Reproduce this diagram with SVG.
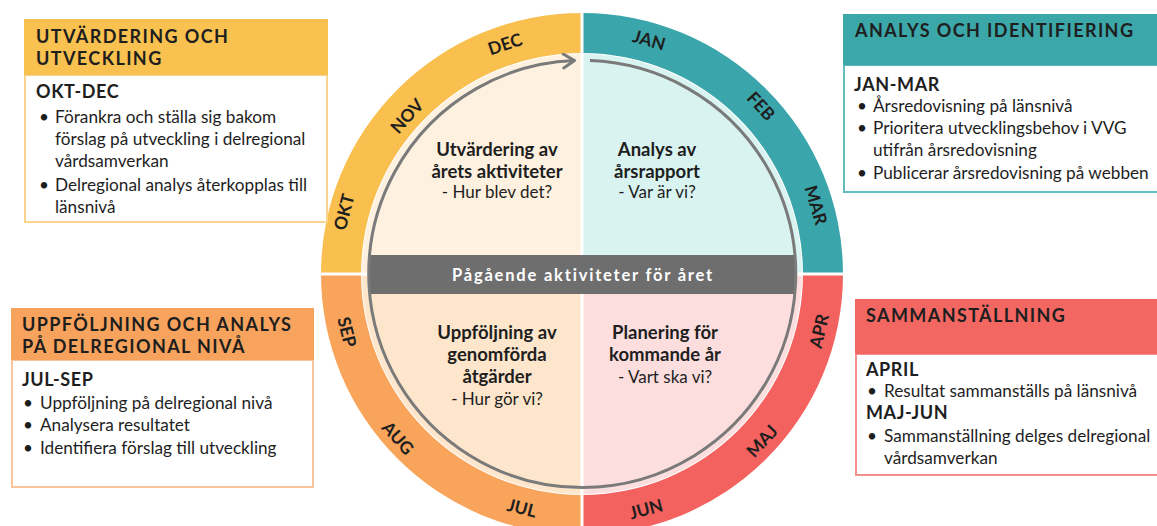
<svg xmlns="http://www.w3.org/2000/svg" width="1157" height="526" viewBox="0 0 1157 526">
<defs>
<style>
text{font-family:Lato,"Open Sans","DejaVu Sans",sans-serif;fill:#1e1e1e}
.hd{font-size:18px;font-weight:700;letter-spacing:1.4px}
.sub{font-size:18px;font-weight:700;letter-spacing:0.6px}
.b{font-size:17.2px}
.m{font-size:17.5px;font-weight:700;text-anchor:middle}
.q{font-size:18.5px;font-weight:700;text-anchor:middle}
.qs{font-size:17px;text-anchor:middle}
.bar{font-size:16.5px;font-weight:700;fill:#ffffff;text-anchor:middle;letter-spacing:1.8px}
.wl{stroke:#ffffff;stroke-width:3}
</style>
<clipPath id="inner"><circle cx="582" cy="274" r="213.5"/></clipPath>
<marker id="arr" markerUnits="userSpaceOnUse" markerWidth="20" markerHeight="20" refX="14" refY="8" orient="auto"><path d="M3,1 L14,8 L3,15" fill="none" stroke="#7a7a7a" stroke-width="3" stroke-linecap="round" stroke-linejoin="round"/></marker>
</defs>
<rect width="1157" height="526" fill="#ffffff"/>

<g id="wheel">
<path d="M582,274 L362,274 A220,220 0 0 1 582,54 Z" fill="#FEF1DF"/>
<path d="M582,274 L582,54 A220,220 0 0 1 802,274 Z" fill="#D9F4F0"/>
<path d="M582,274 L802,274 A220,220 0 0 1 582,494 Z" fill="#FDDEDE"/>
<path d="M582,274 L582,494 A220,220 0 0 1 362,274 Z" fill="#FDE6CB"/>
<path d="M321,274 A261,261 0 0 1 582,13 L582,53 A221,221 0 0 0 361,274 Z" fill="#F9BF4F"/>
<path d="M582,13 A261,261 0 0 1 843,274 L803,274 A221,221 0 0 0 582,53 Z" fill="#3AA5AA"/>
<path d="M843,274 A261,261 0 0 1 582,535 L582,495 A221,221 0 0 0 803,274 Z" fill="#F3625E"/>
<path d="M582,535 A261,261 0 0 1 321,274 L361,274 A221,221 0 0 0 582,495 Z" fill="#F9A45B"/>
<line class="wl" x1="582" y1="8" x2="582" y2="526"/>
<line class="wl" x1="316" y1="274" x2="372" y2="274"/>
<line class="wl" x1="792" y1="274" x2="848" y2="274"/>
<rect x="360" y="255" width="444" height="39" fill="#6E6E6E" clip-path="url(#inner)"/>
<text class="bar" x="583" y="281">Pågående aktiviteter för året</text>
</g>

<g id="connectors">
<path d="M590,60.6 A213.5,213.5 0 1 1 574.5,60.6" fill="none" stroke="#7a7a7a" stroke-width="3" marker-end="url(#arr)"/>
</g>

<g id="months">
<text class="m" transform="translate(505,44) rotate(-18.5)" dy="0.36em">DEC</text>
<text class="m" transform="translate(407,116) rotate(-48)" dy="0.36em">NOV</text>
<text class="m" transform="translate(344,212) rotate(-75.5)" dy="0.36em">OKT</text>
<text class="m" transform="translate(347,332) rotate(76)" dy="0.36em">SEP</text>
<text class="m" transform="translate(398,438) rotate(48)" dy="0.36em">AUG</text>
<text class="m" transform="translate(522,508) rotate(14.5)" dy="0.36em">JUL</text>
<text class="m" transform="translate(649,40) rotate(16)" dy="0.36em">JAN</text>
<text class="m" transform="translate(761,106) rotate(47)" dy="0.36em">FEB</text>
<text class="m" transform="translate(816,205) rotate(73.5)" dy="0.36em">MAR</text>
<text class="m" transform="translate(819,331) rotate(-76.5)" dy="0.36em">APR</text>
<text class="m" transform="translate(762,441) rotate(-47)" dy="0.36em">MAJ</text>
<text class="m" transform="translate(646,509) rotate(-15)" dy="0.36em">JUN</text>
</g>

<g id="q-utvardering">
<text class="q" x="497" y="156">Utvärdering av</text>
<text class="q" x="497" y="178">årets aktiviteter</text>
<text class="qs" x="497" y="198">- Hur blev det?</text>
</g>
<g id="q-analys">
<text class="q" x="657" y="156">Analys av</text>
<text class="q" x="657" y="178">årsrapport</text>
<text class="qs" x="657" y="198">- Var är vi?</text>
</g>
<g id="q-uppfoljning">
<text class="q" x="497" y="339">Uppföljning av</text>
<text class="q" x="497" y="361">genomförda</text>
<text class="q" x="497" y="383">åtgärder</text>
<text class="qs" x="497" y="405">- Hur gör vi?</text>
</g>
<g id="q-planering">
<text class="q" x="665" y="339">Planering för</text>
<text class="q" x="665" y="361">kommande år</text>
<text class="qs" x="665" y="383">- Vart ska vi?</text>
</g>

<g id="box-tl">
<rect x="25" y="75" width="302" height="147" fill="#ffffff" stroke="#FAD48C" stroke-width="2"/>
<rect x="24" y="19" width="304" height="56" fill="#F9C14F"/>
<text class="hd" x="36" y="43">UTVÄRDERING OCH</text>
<text class="hd" x="36" y="65">UTVECKLING</text>
<text class="sub" x="36" y="98">OKT-DEC</text>
<text class="b" x="39" y="123">•</text><text class="b" x="55" y="123">Förankra och ställa sig bakom</text>
<text class="b" x="55" y="145">förslag på utveckling i delregional</text>
<text class="b" x="55" y="167">vårdsamverkan</text>
<text class="b" x="39" y="191">•</text><text class="b" x="55" y="191">Delregional analys återkopplas till</text>
<text class="b" x="55" y="213">länsnivå</text>
</g>

<g id="box-tr">
<rect x="844" y="65" width="330" height="127" fill="#ffffff" stroke="#62BBBD" stroke-width="2"/>
<rect x="843" y="14" width="330" height="51" fill="#3CA7A9"/>
<text class="hd" x="855" y="37">ANALYS OCH IDENTIFIERING</text>
<text class="sub" x="854" y="91">JAN-MAR</text>
<text class="b" x="857" y="112">•</text><text class="b" x="873" y="112">Årsredovisning på länsnivå</text>
<text class="b" x="857" y="134">•</text><text class="b" x="873" y="134">Prioritera utvecklingsbehov i VVG</text>
<text class="b" x="873" y="156">utifrån årsredovisning</text>
<text class="b" x="857" y="179">•</text><text class="b" x="873" y="179">Publicerar årsredovisning på webben</text>
</g>

<g id="box-bl">
<rect x="12" y="360" width="301" height="127" fill="#ffffff" stroke="#F8C49B" stroke-width="2"/>
<rect x="11" y="308" width="303" height="52" fill="#F7A35D"/>
<text class="hd" x="22" y="331">UPPFÖLJNING OCH ANALYS</text>
<text class="hd" x="22" y="353">PÅ DELREGIONAL NIVÅ</text>
<text class="sub" x="22" y="386">JUL-SEP</text>
<text class="b" x="23" y="409">•</text><text class="b" x="40" y="409">Uppföljning på delregional nivå</text>
<text class="b" x="23" y="431">•</text><text class="b" x="40" y="431">Analysera resultatet</text>
<text class="b" x="23" y="454">•</text><text class="b" x="40" y="454">Identifiera förslag till utveckling</text>
</g>

<g id="box-br">
<rect x="856" y="354" width="320" height="121" fill="#ffffff" stroke="#F1908C" stroke-width="2"/>
<rect x="855" y="299" width="320" height="55" fill="#F36762"/>
<text class="hd" x="866" y="322">SAMMANSTÄLLNING</text>
<text class="sub" x="866" y="376">APRIL</text>
<text class="b" x="867" y="397">•</text><text class="b" x="884" y="397">Resultat sammanställs på länsnivå</text>
<text class="sub" x="866" y="419">MAJ-JUN</text>
<text class="b" x="867" y="442">•</text><text class="b" x="884" y="442">Sammanställning delges delregional</text>
<text class="b" x="884" y="464">vårdsamverkan</text>
</g>
</svg>
